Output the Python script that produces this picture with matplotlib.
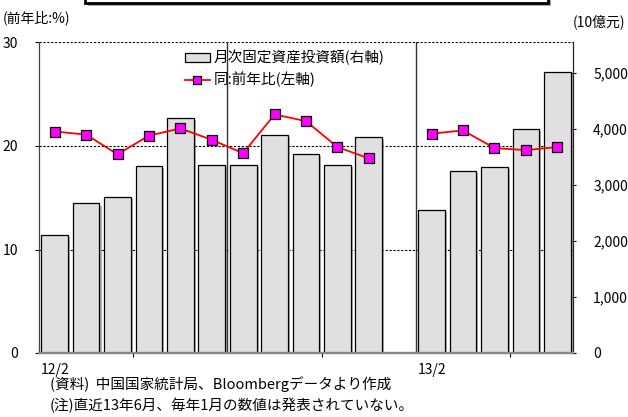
import numpy as np
import matplotlib
matplotlib.use("Agg")
import matplotlib.pyplot as plt
import matplotlib.patheffects as pe
from matplotlib.patches import Rectangle, Patch
from matplotlib.lines import Line2D

plt.rcParams['font.family'] = ['Noto Sans CJK JP', 'DejaVu Sans']

# 12/2 .. 13/6, 13/1 not published
months = ["12/2", "12/3", "12/4", "12/5", "12/6", "12/7", "12/8", "12/9", "12/10",
          "12/11", "12/12", "13/1", "13/2", "13/3", "13/4", "13/5", "13/6"]
fai_amount = [2110, 2670, 2780, 3335, 4190, 3365, 3365, 3900, 3555, 3365, 3860,
              np.nan, 2555, 3245, 3325, 3995, 5020]          # 10億元 (right axis)
fai_yoy = [21.4, 21.1, 19.2, 21.0, 21.7, 20.6, 19.3, 23.05, 22.4, 19.9, 18.8,
           np.nan, 21.2, 21.5, 19.8, 19.6, 19.9]             # % (left axis)
tick_labels = {0: "12/2", 12: "13/2"}

W, H = 628, 417
fig = plt.figure(figsize=(W / 100, H / 100), dpi=100)
ax = fig.add_axes([39 / W, 1 - 353 / H, (573 - 39) / W, (353 - 42.5) / H])
ax2 = ax.twinx()

x = np.arange(len(months))
ymax_r = 5545
ymax_l = 30

# bars on right scale
ax.set_ylim(0, ymax_r)
ax.set_xlim(-0.5, len(months) - 0.5)
r = ymax_r / ymax_l
for v in [10, 20, 30]:
    ax.axhline(v * r, color='black', lw=0.8, ls=(0, (2, 1.5)), zorder=0)
for b in [5.5, 11.5]:
    ax.axvline(b, color='#333333', lw=1.0, zorder=0)

bars = ax.bar(x, fai_amount, width=0.85, color='#e0e0e0', edgecolor='black',
              linewidth=0.9, zorder=2)
for p in bars:
    p.set_path_effects([pe.SimplePatchShadow(offset=(1.5, -1.5), shadow_rgbFace='gray', alpha=0.6),
                        pe.Normal()])

ax.yaxis.tick_right()
ax.set_yticks([0, 1000, 2000, 3000, 4000, 5000])
ax.set_yticklabels(["0", "1,000", "2,000", "3,000", "4,000", "5,000"])
ax.tick_params(axis='y', direction='inout', length=5, pad=12, labelsize=10, width=0.8)

ax.set_xticks(list(tick_labels.keys()))
ax.set_xticklabels(list(tick_labels.values()))
ax.set_xticks([2.5, 8.5, 14.5], minor=True)
ax.tick_params(axis='x', which='major', length=0, pad=7, labelsize=10)
ax.tick_params(axis='x', which='minor', length=3, direction='out', width=0.8)

# line on left scale
ax2.set_ylim(0, ymax_l)
ax2.plot(x, fai_yoy, color='red', lw=1.3, marker='s', markersize=6.5,
         markerfacecolor='magenta', markeredgecolor='black', markeredgewidth=0.9, zorder=3)
ax2.yaxis.tick_left()
ax2.set_yticks([0, 10, 20, 30])
ax2.tick_params(axis='y', direction='out', length=3, pad=12, labelsize=10, width=0.8)

for a in (ax, ax2):
    a.spines['top'].set_visible(False)
    a.spines['left'].set_color('#444444')
    a.spines['right'].set_color('#222222')
    a.spines['bottom'].set_color('#888888')
    a.spines['bottom'].set_linewidth(1.6)
ax.patch.set_visible(False)

handles = [Patch(facecolor='#e0e0e0', edgecolor='black', linewidth=0.9),
           Line2D([], [], color='red', lw=1.3, marker='s', markersize=6,
                  markerfacecolor='magenta', markeredgecolor='black', markeredgewidth=0.9)]
ax2.legend(handles, ["月次固定資産投資額(右軸)", "同:前年比(左軸)"],
           loc='upper left', bbox_to_anchor=(185 / W, 1 - 50 / H), bbox_transform=fig.transFigure,
           frameon=False, fontsize=10.5, handlelength=1.7, handleheight=0.6,
           handletextpad=0.25, labelspacing=0.45, borderpad=0, borderaxespad=0)

fig.text(3 / W, 1 - 18 / H, "(前年比:%)", fontsize=10, va='center', ha='left')
fig.text(625 / W, 1 - 22 / H, "(10億元)", fontsize=10, va='center', ha='right')
fig.text(50 / W, 1 - 384 / H, "(資料)  中国国家統計局、Bloombergデータより作成",
         fontsize=10.5, va='center', ha='left')
fig.text(50 / W, 1 - 405 / H, "(注)直近13年6月、毎年1月の数値は発表されていない。",
         fontsize=10.5, va='center', ha='left')

# title box cut at the top edge
box = Rectangle((85 / W, 1 - 3 / H), (548 - 85) / W, 30 / H, transform=fig.transFigure,
                facecolor='white', edgecolor='black', linewidth=2, clip_on=False)
box.set_path_effects([pe.SimplePatchShadow(offset=(2, -2), shadow_rgbFace='gray', alpha=0.7),
                      pe.Normal()])
fig.patches.append(box)

fig.savefig("out.png", dpi=100)
